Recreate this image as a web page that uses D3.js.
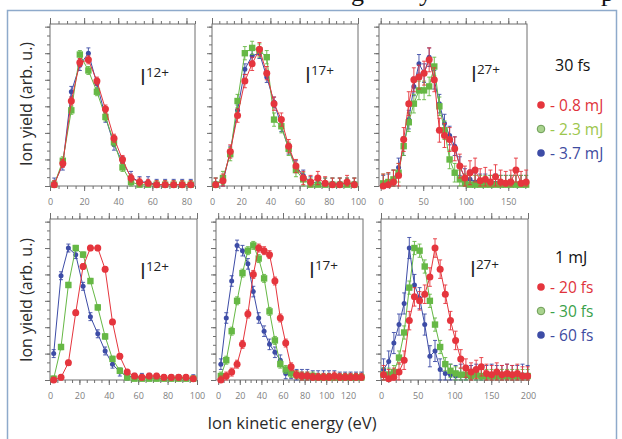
<!DOCTYPE html>
<html lang="en">
<head>
<meta charset="UTF-8" />
<title>Ion kinetic energy spectra</title>
<script src="https://d3js.org/d3.v7.min.js"></script>
<style>
  body { margin: 0; background: #fff; }
  svg text { font-family: "Open Sans", "DejaVu Sans", sans-serif; }
</style>
</head>
<body>
<div id="chart"></div>
<script>
// ---- data (yields normalised to peak ~1) ----

// top row: 30 fs, pulse energy 0.8 / 2.3 / 3.7 mJ
var energyI12top = [2.5,7.5,12.5,17.5,22.5,27.5,32.5,37.5,42.5,47.5,52.5,57.5,62.5,67.5,72.5,77.5,82.5];
var i12_08mJ = [0.01,0.17,0.64,0.93,0.95,0.79,0.58,0.36,0.20,0.06,0.03,0.02,0.01,0.01,0.01,0.01,0.01];
var i12_23mJ = [0.01,0.19,0.57,0.99,0.87,0.71,0.52,0.33,0.14,0.03,0.01,0.01,0.01,0.01,0.01,0.01,0.01];
var i12_37mJ = [0.02,0.16,0.71,0.91,1.00,0.77,0.52,0.31,0.18,0.07,0.03,0.03,0.01,0.01,0.01,0.01,0.01];

var energyI17top = [2.5,7.5,12.5,17.5,22.5,27.5,32.5,37.5,42.5,47.5,52.5,57.5,62.5,67.5,72.5,77.5,82.5,87.5,92.5,97.5];
var i17_08mJ = [0.01,0.04,0.26,0.53,0.79,0.92,1.03,0.85,0.62,0.50,0.30,0.15,0.06,0.03,0.06,0.02,0.01,0.01,0.03,0.01];
var i17_23mJ = [0.01,0.06,0.24,0.64,1.00,1.04,1.02,0.97,0.50,0.45,0.28,0.12,0.05,0.01,0.01,0.01,0.01,0.01,0.01,0.01];
var i17_37mJ = [0.02,0.03,0.26,0.57,0.88,0.98,1.00,0.82,0.63,0.45,0.28,0.15,0.08,0.03,0.02,0.02,0.02,0.02,0.02,0.02];

var energyI27top = [3,9,15,21,27,33,39,45,51,57,63,69,75,81,87,93,99,105,111,117,123,129,135,141,147,153,159,165,171];
var i27_08mJ = [0.00,0.01,0.03,0.08,0.35,0.62,0.80,0.82,0.85,0.95,0.80,0.42,0.38,0.35,0.28,0.15,0.06,0.10,0.12,0.04,0.05,0.03,0.07,0.03,0.02,0.03,0.12,0.02,0.03];
var i27_23mJ = [0.02,0.03,0.05,0.10,0.30,0.48,0.62,0.72,0.72,0.75,0.90,0.60,0.42,0.20,0.10,0.05,0.02,0.01,0.01,0.01,0.01,0.01,0.01,0.01,0.01,0.01,0.01,0.01,0.01];
var i27_37mJ = [0.01,0.02,0.05,0.14,0.30,0.50,0.75,0.92,0.85,0.97,0.80,0.62,0.47,0.38,0.30,0.15,0.06,0.05,0.03,0.02,0.02,0.01,0.02,0.01,0.01,0.01,0.01,0.01,0.01];

// bottom row: 1 mJ, pulse duration 20 / 30 / 60 fs
var energyI12bot = [2.5,7.5,12.5,17.5,22.5,27.5,32.5,37.5,42.5,47.5,52.5,57.5,62.5,67.5,72.5,77.5,82.5,87.5,92.5,97.5];
var i12_20fs = [0.00,0.02,0.13,0.51,0.86,1.00,1.00,0.84,0.44,0.18,0.06,0.03,0.02,0.03,0.03,0.02,0.02,0.02,0.02,0.01];
var i12_30fs = [0.01,0.25,0.72,1.00,0.95,0.75,0.55,0.33,0.16,0.07,0.02,0.01,0.01,0.01,0.01,0.01,0.01,0.01,0.01,0.01];
var i12_60fs = [0.20,0.79,1.00,0.95,0.71,0.48,0.35,0.22,0.12,0.06,0.03,0.02,0.02,0.02,0.01,0.01,0.01,0.01,0.01,0.01];

var energyI17bot = [2.5,7.5,12.5,17.5,22.5,27.5,32.5,37.5,42.5,47.5,52.5,57.5,62.5,67.5,72.5,77.5,82.5,87.5,92.5,97.5,102.5,107.5,112.5,117.5,122.5,127.5,132.5];
var i17_20fs = [0.00,0.03,0.06,0.12,0.27,0.50,0.80,1.00,0.98,0.95,0.75,0.47,0.28,0.10,0.04,0.03,0.03,0.02,0.02,0.02,0.02,0.03,0.02,0.02,0.02,0.02,0.02];
var i17_30fs = [0.03,0.15,0.37,0.60,0.81,0.98,1.02,0.92,0.77,0.52,0.30,0.12,0.08,0.05,0.04,0.03,0.03,0.03,0.02,0.02,0.02,0.02,0.02,0.02,0.02,0.02,0.02];
var i17_60fs = [0.12,0.47,0.75,1.02,0.98,0.88,0.67,0.47,0.37,0.27,0.21,0.15,0.05,0.05,0.04,0.04,0.04,0.03,0.03,0.03,0.03,0.03,0.02,0.02,0.02,0.02,0.02];

var energyI27bot = [3.5,10.5,17.5,24.5,31.5,38.5,45.5,52.5,59.5,66.5,73.5,80.5,87.5,94.5,101.5,108.5,115.5,122.5,129.5,136.5,143.5,150.5,157.5,164.5,171.5,178.5,185.5,192.5,199.5];
var i27_20fs = [0.04,0.01,0.02,0.06,0.15,0.45,0.63,0.60,0.65,0.78,1.00,0.84,0.65,0.45,0.30,0.16,0.09,0.06,0.08,0.10,0.05,0.04,0.06,0.04,0.05,0.04,0.05,0.03,0.03];
var i27_30fs = [0.04,0.04,0.06,0.17,0.36,0.70,1.00,0.98,0.86,0.60,0.42,0.25,0.12,0.07,0.05,0.04,0.04,0.03,0.04,0.03,0.03,0.03,0.03,0.03,0.03,0.03,0.03,0.03,0.03];
var i27_60fs = [0.08,0.14,0.28,0.42,0.58,1.00,0.72,0.62,0.42,0.18,0.22,0.08,0.05,0.04,0.03,0.04,0.03,0.03,0.04,0.03,0.03,0.04,0.03,0.03,0.04,0.03,0.03,0.04,0.03];

// typical error bar half-heights (red, green, blue)
var errI12top = [0.03,0.03,0.04];
var errI17top = [0.05,0.05,0.04];
var errI27top = [0.09,0.07,0.07];
var errI12bot = [0.02,0.02,0.03];
var errI17bot = [0.03,0.03,0.04];
var errI27bot = [0.07,0.05,0.08];

// tick labels
var ticksI12top = [0,20,40,60,80];
var ticksI17top = [0,20,40,60,80,100];
var ticksI27top = [0,50,100,150];
var ticksI12bot = [0,20,40,60,80,100];
var ticksI17bot = [0,20,40,60,80,100,120];
var ticksI27bot = [0,50,100,150,200];

var chargeStates = ["12+","17+","27+"];
var pulseEnergies = ["0.8 mJ","2.3 mJ","3.7 mJ"];
var pulseDurations = ["20 fs","30 fs","60 fs"];

// ---- drawing ----
var width = 622, height = 439;
var colors = ["#e5353d", "#66b845", "#3d4ca6"];

var svg = d3.select("#chart").append("svg")
    .attr("width", width)
    .attr("height", height);

svg.append("rect").attr("width", width).attr("height", height).attr("fill", "#fff");

// fragments of the caption line above the frame
[["g",351],["y",419],["p",601]].forEach(function(c) {
  svg.append("text").attr("x", c[1]).attr("y", 1).attr("fill", "#111")
    .style("font-family", "'Liberation Serif', serif").style("font-size", "26px")
    .text(c[0]);
});

// frame
svg.append("rect")
    .attr("x", 7.5).attr("y", 10.5)
    .attr("width", 609).attr("height", 440)
    .attr("fill", "#fff")
    .attr("stroke", "#8eaacb")
    .attr("stroke-width", 1.5);

var rows = [{top: 24, bottom: 186}, {top: 219, bottom: 380}];

var panels = [
  {row: 0, left: 50,  right: 195, dom: [0, 85],   minor: 5,  ticks: ticksI12top, x: energyI12top, series: [i12_08mJ, i12_23mJ, i12_37mJ], err: errI12top, ion: 0, lx: 140, ly: 85},
  {row: 0, left: 212, right: 358, dom: [0, 100],  minor: 5,  ticks: ticksI17top, x: energyI17top, series: [i17_08mJ, i17_23mJ, i17_37mJ], err: errI17top, ion: 1, lx: 305, ly: 83},
  {row: 0, left: 379, right: 527, dom: [-2, 172], minor: 10, ticks: ticksI27top, x: energyI27top, series: [i27_08mJ, i27_23mJ, i27_37mJ], err: errI27top, ion: 2, lx: 471, ly: 82},
  {row: 1, left: 50,  right: 197, dom: [0, 100],  minor: 5,  ticks: ticksI12bot, x: energyI12bot, series: [i12_20fs, i12_30fs, i12_60fs], err: errI12bot, ion: 0, lx: 140, ly: 279},
  {row: 1, left: 216, right: 363, dom: [-2, 134], minor: 5,  ticks: ticksI17bot, x: energyI17bot, series: [i17_20fs, i17_30fs, i17_60fs], err: errI17bot, ion: 1, lx: 309, ly: 278},
  {row: 1, left: 381, right: 528, dom: [0, 200],  minor: 10, ticks: ticksI27bot, x: energyI27bot, series: [i27_20fs, i27_30fs, i27_60fs], err: errI27bot, ion: 2, lx: 470, ly: 277}
];

var yMajor = [0, 0.2, 0.4, 0.6, 0.8, 1.0, 1.2];

panels.forEach(function(p) {
  var r = rows[p.row];
  var x = d3.scaleLinear().domain(p.dom).range([p.left, p.right]);
  var y = d3.scaleLinear().domain([0, 1.22]).range([r.bottom, r.top]);
  var g = svg.append("g");

  var minorX = d3.range(Math.ceil(p.dom[0] / p.minor) * p.minor, p.dom[1] + 0.001, p.minor);
  var minorY = d3.range(0, 1.22, 0.2 / 3);

  function tidy(sel) {
    sel.select(".domain").remove();
    sel.selectAll("line").attr("stroke", "#6f6f6f");
  }

  // bottom axis with labels
  g.append("g").attr("transform", "translate(0," + r.bottom + ")")
    .call(d3.axisBottom(x).tickValues(minorX).tickSize(3).tickFormat(""))
    .call(tidy);
  g.append("g").attr("transform", "translate(0," + r.bottom + ")")
    .call(d3.axisBottom(x).tickValues(p.ticks).tickSize(5).tickPadding(8))
    .call(tidy)
    .selectAll("text").attr("fill", "#808080").style("font-size", "9px");

  // top axis (ticks only)
  g.append("g").attr("transform", "translate(0," + r.top + ")")
    .call(d3.axisTop(x).tickValues(minorX).tickSize(3).tickFormat(""))
    .call(tidy);
  g.append("g").attr("transform", "translate(0," + r.top + ")")
    .call(d3.axisTop(x).tickValues(p.ticks).tickSize(6).tickFormat(""))
    .call(tidy);

  // left axis (ticks only)
  g.append("g").attr("transform", "translate(" + p.left + ",0)")
    .call(d3.axisLeft(y).tickValues(minorY).tickSize(3).tickFormat(""))
    .call(tidy);
  g.append("g").attr("transform", "translate(" + p.left + ",0)")
    .call(d3.axisLeft(y).tickValues(yMajor).tickSize(5).tickFormat(""))
    .call(tidy);

  // box
  g.append("rect")
    .attr("x", p.left).attr("y", r.top)
    .attr("width", p.right - p.left).attr("height", r.bottom - r.top)
    .attr("fill", "none").attr("stroke", "#6f6f6f").attr("stroke-width", 1);

  // series: draw blue, green, then red on top
  [2, 1, 0].forEach(function(si) {
    var vals = p.series[si];
    var pts = p.x.map(function(e, i) { return {e: e, v: vals[i]}; });
    var col = colors[si];
    var e = p.err[si];
    var sg = g.append("g");

    sg.append("path").datum(pts)
      .attr("fill", "none").attr("stroke", col).attr("stroke-width", 1)
      .attr("d", d3.line().x(function(d) { return x(d.e); }).y(function(d) { return y(d.v); }));

    var eb = sg.selectAll(".eb").data(pts).enter().append("g").attr("stroke", col).attr("stroke-width", 0.9);
    eb.append("line")
      .attr("x1", function(d) { return x(d.e); }).attr("x2", function(d) { return x(d.e); })
      .attr("y1", function(d) { return y(Math.max(0, d.v - e)); })
      .attr("y2", function(d) { return y(d.v + e); });
    eb.append("line")
      .attr("x1", function(d) { return x(d.e) - 2; }).attr("x2", function(d) { return x(d.e) + 2; })
      .attr("y1", function(d) { return y(d.v + e); }).attr("y2", function(d) { return y(d.v + e); });
    eb.append("line")
      .attr("x1", function(d) { return x(d.e) - 2; }).attr("x2", function(d) { return x(d.e) + 2; })
      .attr("y1", function(d) { return y(Math.max(0, d.v - e)); }).attr("y2", function(d) { return y(Math.max(0, d.v - e)); });

    if (si === 1) {
      sg.selectAll(".m").data(pts).enter().append("rect")
        .attr("x", function(d) { return x(d.e) - 3.2; })
        .attr("y", function(d) { return y(d.v) - 3.2; })
        .attr("width", 6.4).attr("height", 6.4)
        .attr("fill", col);
    } else {
      sg.selectAll(".m").data(pts).enter().append("circle")
        .attr("cx", function(d) { return x(d.e); })
        .attr("cy", function(d) { return y(d.v); })
        .attr("r", si === 0 ? 3.5 : 2.5)
        .attr("fill", col);
    }
  });

  // charge state label
  var t = g.append("text").attr("x", p.lx).attr("y", p.ly).attr("fill", "#222");
  t.append("tspan").style("font-size", "21px").text("I");
  t.append("tspan").attr("dy", -8).style("font-size", "13.5px").text(chargeStates[p.ion]);
});

// axis titles
[104, 300].forEach(function(cy) {
  svg.append("text")
    .attr("transform", "translate(32," + cy + ") rotate(-90)")
    .attr("text-anchor", "middle")
    .attr("fill", "#2a2a2a")
    .style("font-size", "16px")
    .text("Ion yield (arb. u.)");
});

svg.append("text")
  .attr("x", 292).attr("y", 429)
  .attr("text-anchor", "middle")
  .attr("fill", "#2a2a2a")
  .style("font-size", "16.5px")
  .text("Ion kinetic energy (eV)");

// legends
var legendTextTop = ["#e0333b", "#9cc64c", "#3e4ba0"];
var legendTextBot = ["#e0333b", "#3aa14a", "#3e4ba0"];

function legend(title, labels, textColors, ty, ys) {
  svg.append("text").attr("x", 555).attr("y", ty).attr("fill", "#111")
    .style("font-size", "16px").text(title);
  labels.forEach(function(l, i) {
    svg.append("circle").attr("cx", 541).attr("cy", ys[i]).attr("r", 3.8)
      .attr("fill", i === 1 ? "#a9d38e" : colors[i])
      .attr("stroke", i === 1 ? "#6c9c55" : "none").attr("stroke-width", 1);
    svg.append("text").attr("x", 550).attr("y", ys[i] + 5.5).attr("fill", textColors[i])
      .style("font-size", "15.5px").text("- " + l);
  });
}

legend("30 fs", pulseEnergies, legendTextTop, 71, [105, 129, 153]);
legend("1 mJ", pulseDurations, legendTextBot, 263, [287, 311, 335]);
</script>
</body>
</html>
